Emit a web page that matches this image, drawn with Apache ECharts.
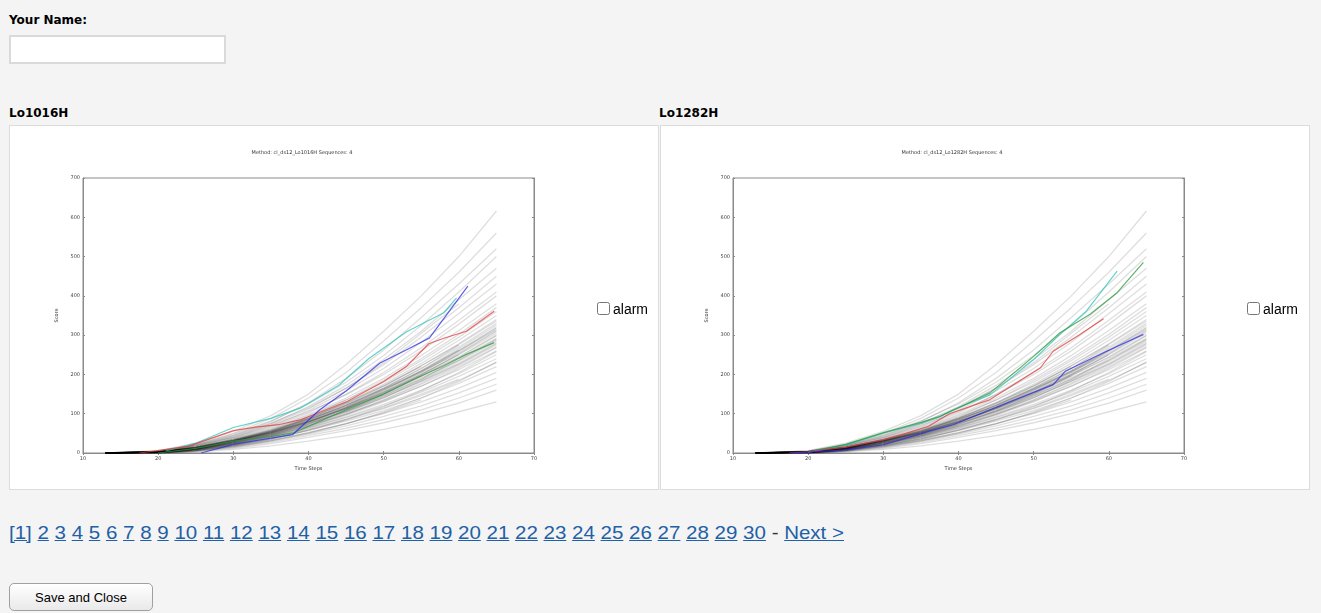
<!DOCTYPE html>
<html><head><meta charset="utf-8">
<script src="https://cdn.jsdelivr.net/npm/echarts@6/dist/echarts.min.js"></script>
<style>
html,body{margin:0;padding:0;background:#f4f4f4;width:1321px;height:613px;overflow:hidden;font-family:"DejaVu Sans",Verdana,sans-serif;}
.abs{position:absolute}
#nameLbl{left:9px;top:13px;font-weight:bold;font-size:12px;color:#000}
#nameInput{position:absolute;left:9px;top:35px;width:213px;height:25px;border:2px solid #dadada;background:#fff;padding:0;margin:0;outline:none}
.plabel{position:absolute;top:106px;font-weight:bold;font-size:12px;color:#000}
.panel{position:absolute;top:125px;width:648px;height:363px;border:1px solid #dcdcdc;background:#fff}
.chart{position:absolute;left:0;top:0;width:648px;height:363px}
.alarm{position:absolute;top:175px;font-family:"Liberation Sans",Arial,sans-serif;font-size:14px;color:#000;white-space:nowrap}
.alarm input{margin:0 3px 0 0;width:13px;height:13px;vertical-align:-1px}
#pager{position:absolute;left:9px;top:522px;font-family:"Liberation Sans Narrow","Arial Narrow","Liberation Sans",sans-serif;font-size:19px;color:#333;white-space:nowrap;transform-origin:0 0}
#pager a{color:#2160a6;text-decoration:underline}
#saveBtn{position:absolute;left:9px;top:583px;width:144px;height:28px;border:1px solid #a0a0a0;border-radius:5px;background:linear-gradient(#ffffff,#e9e9e9);font-family:"Liberation Sans",Arial,sans-serif;font-size:13px;color:#000;padding:0}
</style></head>
<body>
<div id="nameLbl" class="abs">Your Name:</div>
<input id="nameInput" type="text">
<div class="plabel" style="left:9px">Lo1016H</div>
<div class="plabel" style="left:659px">Lo1282H</div>
<div class="panel" style="left:9px"><div id="c1" class="chart"></div><label class="alarm" style="left:587px"><input type="checkbox">alarm</label></div>
<div class="panel" style="left:660px"><div id="c2" class="chart"></div><label class="alarm" style="left:586px"><input type="checkbox">alarm</label></div>
<div id="pager"><a>[1]</a> <a>2</a> <a>3</a> <a>4</a> <a>5</a> <a>6</a> <a>7</a> <a>8</a> <a>9</a> <a>10</a> <a>11</a> <a>12</a> <a>13</a> <a>14</a> <a>15</a> <a>16</a> <a>17</a> <a>18</a> <a>19</a> <a>20</a> <a>21</a> <a>22</a> <a>23</a> <a>24</a> <a>25</a> <a>26</a> <a>27</a> <a>28</a> <a>29</a> <a>30</a> - <a>Next &gt;</a></div>
<button id="saveBtn">Save and Close</button>
<script>
// Shared background sequences (time steps and scores)
const greyTimes = [13,20,25,30,35,40,45,50,55,60,65];
const greyRuns = [
 [0,6,25,55,95,150,225,310,400,500,616],
 [0,5,22,50,88,140,205,285,370,460,560],
 [0,4,20,45,80,128,190,262,345,430,520],
 [0,5,22,48,82,125,180,248,325,410,500],
 [0,3,18,42,75,118,172,238,310,390,470],
 [0,4,20,44,76,115,165,225,295,370,450],
 [0,3,16,38,68,108,158,215,282,355,430],
 [0,2,14,36,65,102,150,205,268,338,410],
 [0,4,18,40,70,105,148,200,260,328,400],
 [0,3,15,35,62,98,140,190,248,312,380],
 [0,2,12,32,58,92,135,185,240,302,370],
 [0,3,14,34,60,95,135,180,235,295,360],
 [0,2,12,30,55,88,128,175,228,287,350],
 [0,3,15,33,58,90,128,172,222,278,340],
 [0,2,11,28,52,84,122,165,215,270,330],
 [0,2,12,30,54,85,120,162,208,262,320],
 [0,1,10,26,48,78,114,155,200,252,310],
 [0,2,11,28,50,80,113,152,196,245,300],
 [0,1,9,24,45,74,106,145,188,236,290],
 [0,2,10,26,47,75,106,142,183,228,280],
 [0,1,8,22,42,68,98,134,175,220,270],
 [0,2,10,24,44,70,99,132,170,212,260],
 [0,1,8,21,40,64,92,124,160,202,250],
 [0,1,9,22,40,63,90,120,155,195,240],
 [0,1,7,19,36,58,84,113,146,185,230],
 [0,1,8,20,36,57,81,108,140,177,220],
 [0,1,6,17,32,52,75,100,130,165,205],
 [0,1,6,16,30,48,69,93,120,153,190],
 [0,0,5,14,27,44,63,85,110,140,175],
 [0,0,4,12,24,40,57,77,100,127,160],
 [0,4,18,40,72,112,165,230,305,380,null],
 [0,2,12,30,55,88,126,170,220,null,null],
 [0,1,8,20,38,60,86,115,150,188,null],
 [0,3,14,32,56,86,122,165,215,275,null],
 [0,1,7,18,33,52,75,102,135,null,null],
 [null,0,3,9,18,30,44,60,80,105,130],
 [null,0,6,18,35,58,85,118,158,205,258],
 [null,0,5,15,30,50,74,104,140,182,232],
 [0,2,13,31,53,82,116,156,204,258,318],
 [0,1,9,23,42,66,96,130,170,216,268],
 [0,2,12,30,50,78,112,150,197,243,298],
 [0,3,14,33,55,86,118,162,206,260,315],
 [0,2,11,27,47,73,108,146,188,240,292],
 [0,3,13,31,52,80,115,158,207,254,312],
 [0,2,12,28,49,76,107,148,192,236,288],
 [0,1,10,26,46,72,104,140,185,233,284],
 [0,3,14,32,54,83,121,164,210,266,325],
 [0,2,12,29,51,79,113,153,199,250,305],
 [0,2,10,25,44,70,102,141,182,226,278],
 [0,3,15,34,57,88,125,170,222,276,336],
 [0,1,9,24,43,68,99,136,178,224,275],
 [0,2,13,30,51,81,117,160,209,262,null],
 [0,2,11,27,48,77,110,150,196,null,null],
 [0,3,13,30,52,80,114,154,200,250,null]
];

// Highlighted sequences, chart Lo1016H: [time step, score]
const lo1016Cyan  = [[21,5],[25,25],[30,65],[35,88],[39,115],[44,172],[48,240],[53,308],[58,357],[59.7,395]];
const lo1016Blue  = [[25.7,0],[30,22],[35,38],[37.9,47],[41.5,110],[45,158],[49.5,229],[53,262],[56.1,293],[61.2,425]];
const lo1016Red   = [[17.5,0],[24,17],[30,57],[33,66],[36,72],[39,85],[41,100],[45,130],[50,182],[53,220],[56,278],[58,292],[61,310],[64.7,361]];
const lo1016Green = [[20,0],[25,12],[30,30],[35,42],[38,51],[45,110],[50,150],[54,187],[58,222],[61,251],[64.7,281]];

// Highlighted sequences, chart Lo1282H
const lo1282Cyan  = [[20,2],[25,20],[30,51],[35,75],[37.5,92],[39.3,110],[44.2,148],[50,238],[53.5,302],[57,361],[61.1,463]];
const lo1282Blue  = [[17.5,0],[20,2],[25,8],[30,21],[33,38],[36,55],[39.3,72],[44.2,110],[52.6,174],[54.2,208],[59.7,259],[64.6,302]];
const lo1282Red   = [[17.5,0],[20,3],[25,15],[30,34],[33,50],[36,68],[38.8,100],[44.2,136],[50.9,217],[52.6,259],[56,300],[59.3,342]];
const lo1282Green = [[20,2],[25,22],[30,52],[35,78],[37.5,93],[44.2,153],[50,246],[53.5,306],[57.5,353],[61.1,408],[64.6,485]];

const xTicks = {min:10,max:70,interval:10};
const yTicks = {min:0,max:700,interval:100};

function pairs(ts, vs){ const out=[]; for(let i=0;i<ts.length;i++){ if(vs[i]!=null) out.push([ts[i],vs[i]]); } return out; }

function axisCommon(){
  return {
    axisLine:{show:true,lineStyle:{color:'#8a8a8a',width:1}},
    axisTick:{show:true,inside:true,length:2,lineStyle:{color:'#8a8a8a'}},
    splitLine:{show:false}
  };
}

function makeOption(title, colored, gridLeft){
  const series = greyRuns.map(r => ({
    type:'line', data:pairs(greyTimes,r), symbol:'none', silent:true, z:1,
    lineStyle:{color:'rgba(0,0,0,0.13)',width:1.3}
  }));
  colored.forEach(c => series.push({
    type:'line', data:c.data, symbol:'none', silent:true, z:3,
    lineStyle:{color:c.color,width:1.2,opacity:0.75}
  }));
  const ax = axisCommon();
  return {
    animation:false,
    backgroundColor:'#fff',
    grid:{left:gridLeft,top:52,width:451,height:275,show:true,borderColor:'#8a8a8a',borderWidth:1},
    graphic:[{type:'text',x:gridLeft+219,y:27,style:{text:title,fontSize:5,fill:'#333',textAlign:'center',textVerticalAlign:'middle',fontFamily:'DejaVu Sans'}}],
    xAxis:[
      Object.assign({type:'value',position:'bottom',name:'Time Steps',nameLocation:'middle',nameGap:9,
        nameTextStyle:{fontSize:5,color:'#333',fontFamily:'DejaVu Sans'},
        axisLabel:{fontSize:5,color:'#444',margin:3,fontFamily:'DejaVu Sans'}}, xTicks, ax),
      Object.assign({type:'value',position:'top',axisLabel:{show:false}}, xTicks, axisCommon())
    ],
    yAxis:[
      Object.assign({type:'value',position:'left',name:'Score',nameLocation:'middle',nameGap:14,
        nameTextStyle:{fontSize:5,color:'#333',fontFamily:'DejaVu Sans'},
        axisLabel:{fontSize:5,color:'#444',margin:3,fontFamily:'DejaVu Sans'}}, yTicks, ax),
      Object.assign({type:'value',position:'right',axisLabel:{show:false}}, yTicks, axisCommon())
    ],
    series:series
  };
}

const cyanC='#2cc4bc', blueC='#2a2ae6', redC='#e23a3a', greenC='#2a9a3a';
echarts.init(document.getElementById('c1'),null,{renderer:'canvas'}).setOption(makeOption('Method: cl_ds12_Lo1016H Sequences: 4',[
  {data:lo1016Cyan,color:cyanC},{data:lo1016Green,color:greenC},{data:lo1016Red,color:redC},{data:lo1016Blue,color:blueC}
],73));
echarts.init(document.getElementById('c2'),null,{renderer:'canvas'}).setOption(makeOption('Method: cl_ds12_Lo1282H Sequences: 4',[
  {data:lo1282Cyan,color:cyanC},{data:lo1282Green,color:greenC},{data:lo1282Red,color:redC},{data:lo1282Blue,color:blueC}
],72));

// fit pager text width to the reference (x 9..844)
const pg=document.getElementById('pager');
const w=pg.getBoundingClientRect().width;
if(w>0){ pg.style.transform='scaleX('+(835/w)+')'; }
</script>
</body></html>
